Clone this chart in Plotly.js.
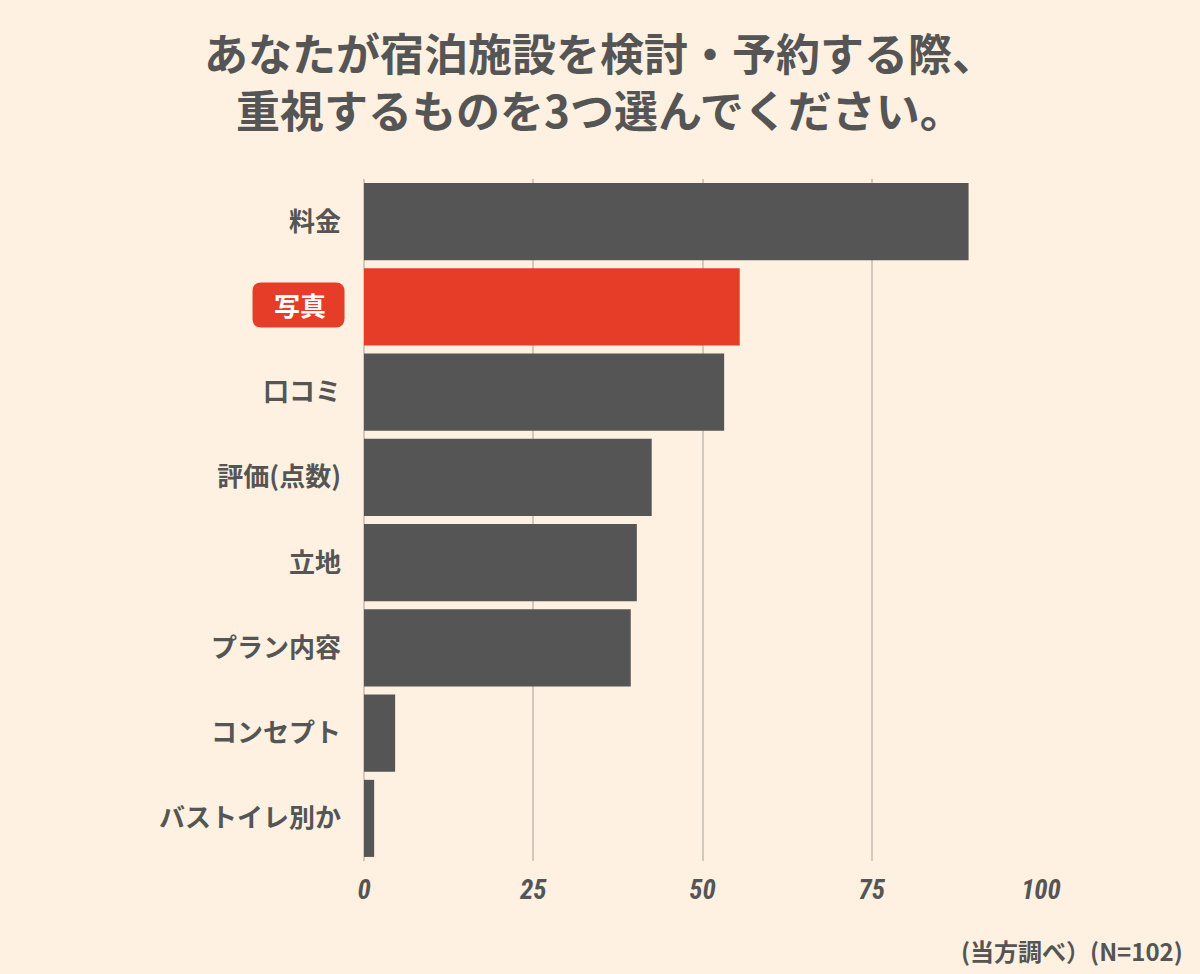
<!DOCTYPE html>
<html>
<head>
<meta charset="utf-8">
<script src="https://cdn.plot.ly/plotly-3.0.1.min.js"></script>
<style>
  html, body { margin: 0; padding: 0; background: #fef1e1; }
  #chart { width: 1200px; height: 974px; }
</style>
</head>
<body>
<div id="chart"></div>
<script>
const categories = ['料金', '写真', '口コミ', '評価(点数)', '立地', 'プラン内容', 'コンセプト', 'バストイレ別か'];
const values = [89.3, 55.5, 53.2, 42.5, 40.3, 39.4, 4.6, 1.5];
const highlight = '写真';
const xTicks = [0, 25, 50, 75, 100];
const titleText = 'あなたが宿泊施設を検討・予約する際、<br>重視するものを3つ選んでください。';
const sourceText = '(当方調べ）(N=102)';

const GREY = '#555555';
const RED = '#e53d27';
const BG = '#fef1e1';
const JP = '"Noto Sans CJK JP", "Noto Sans", sans-serif';

const barColors = categories.map(c => c === highlight ? RED : GREY);
const tickText = categories.map(c => c === highlight ? ' ' : c);

const trace = {
  type: 'bar',
  orientation: 'h',
  x: values,
  y: categories,
  marker: { color: barColors, line: { width: 0 } },
  hoverinfo: 'x+y'
};

const hiIndex = categories.indexOf(highlight);

const layout = {
  width: 1200,
  height: 974,
  paper_bgcolor: BG,
  plot_bgcolor: BG,
  margin: { l: 364, r: 158.5, t: 179.4, b: 113, pad: 0 },
  bargap: 0.096,
  showlegend: false,
  title: {
    text: titleText,
    x: 0.5,
    xanchor: 'center',
    xref: 'container',
    y: 0.927,
    yanchor: 'middle',
    yref: 'container',
    font: { family: JP, size: 44, color: GREY, weight: 'bold' }
  },
  xaxis: {
    range: [0, 100],
    tickvals: xTicks,
    ticktext: xTicks.map(String),
    showgrid: true,
    gridcolor: '#d2c8bc',
    gridwidth: 2,
    zeroline: true,
    zerolinecolor: '#d2c8bc',
    zerolinewidth: 2,
    showline: false,
    ticks: '',
    ticklabelstandoff: 10,
    tickfont: { family: '"Roboto Condensed", "DejaVu Sans Condensed", Roboto, sans-serif', size: 27, color: GREY, weight: 'bold', style: 'italic' },
    fixedrange: true
  },
  yaxis: {
    type: 'category',
    autorange: 'reversed',
    tickvals: categories,
    ticktext: tickText,
    showgrid: false,
    zeroline: false,
    showline: false,
    ticks: '',
    ticklabelstandoff: 22,
    tickfont: { family: JP, size: 26, color: GREY, weight: 'bold' },
    fixedrange: true
  },
  shapes: [
    {
      type: 'path',
      xref: 'paper',
      yref: 'y',
      xsizemode: 'pixel',
      ysizemode: 'pixel',
      xanchor: -0.0967,
      yanchor: hiIndex,
      path: 'M -37,-20.5 L 37,-20.5 Q 46,-20.5 46,-11.5 L 46,15.5 Q 46,24.5 37,24.5 L -37,24.5 Q -46,24.5 -46,15.5 L -46,-11.5 Q -46,-20.5 -37,-20.5 Z',
      fillcolor: RED,
      line: { width: 0 },
      layer: 'above'
    }
  ],
  annotations: [
    {
      text: highlight,
      xref: 'paper',
      yref: 'y',
      x: -0.0952,
      y: highlight,
      yshift: 2,
      xanchor: 'center',
      yanchor: 'middle',
      showarrow: false,
      font: { family: JP, size: 26, color: '#ffffff', weight: 'bold' }
    },
    {
      text: sourceText,
      xref: 'paper',
      yref: 'paper',
      x: 1.2134,
      y: -0.131,
      xanchor: 'right',
      yanchor: 'middle',
      showarrow: false,
      font: { family: JP, size: 24, color: GREY, weight: 'bold' }
    }
  ]
};

Plotly.newPlot('chart', [trace], layout, { staticPlot: true, displayModeBar: false });
</script>
</body>
</html>
